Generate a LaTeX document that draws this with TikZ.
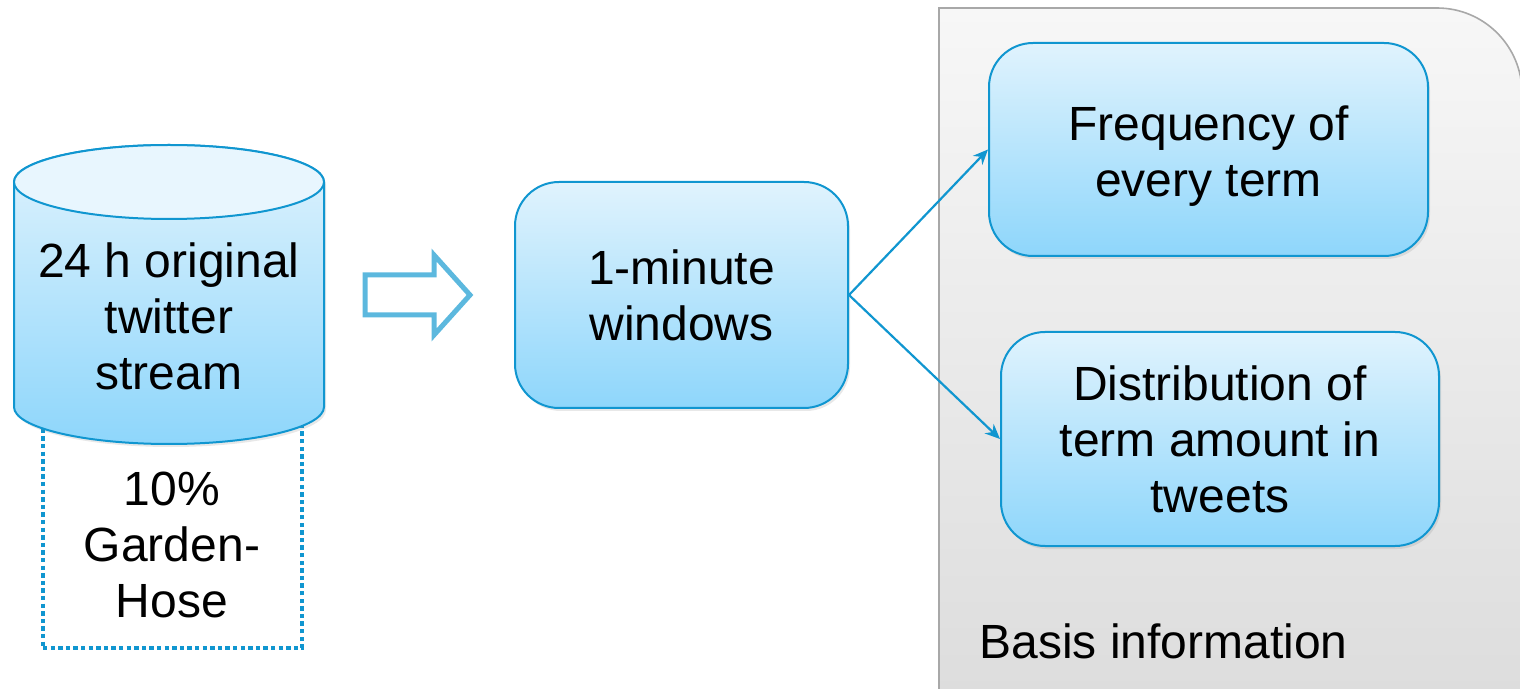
\documentclass[tikz,border=0pt]{standalone}
\usepackage{fontspec}
\setmainfont{Liberation Sans}
\usepackage{xcolor}
\usepackage{tikz}
\usetikzlibrary{arrows.meta, positioning, shadows}
\definecolor{hoseblue}{RGB}{16, 150, 208}
\definecolor{flowblue}{RGB}{92, 184, 222}
\definecolor{boxtop}{RGB}{224, 243, 253}
\definecolor{boxbottom}{RGB}{142, 214, 251}
\definecolor{lidfill}{RGB}{232, 246, 254}
\definecolor{paneltop}{RGB}{247, 247, 247}
\definecolor{panelbottom}{RGB}{220, 220, 220}
\definecolor{panelline}{RGB}{168, 168, 168}

\begin{document}
\begin{tikzpicture}[
    x=0.5pt, y=-0.5pt,
    every node/.style={font=\fontsize{24pt}{28pt}\selectfont},
    stepbox/.style={rectangle, draw=hoseblue, line width=1pt, rounded corners=22pt, top color=boxtop, bottom color=boxbottom, align=center,
        drop shadow={opacity=0.18, shadow xshift=1pt, shadow yshift=-1.5pt}},
    link/.style={-{Stealth[length=7.5pt, width=6.5pt]}, draw=hoseblue, line width=1.1pt},
    txt/.style={align=center, inner sep=0pt}
]
    \useasboundingbox (0,0) rectangle (1520,689);
    \clip (0,0) rectangle (1520,689);

    % Basis panel
    \path[draw=panelline, line width=0.8pt, top color=paneltop, bottom color=panelbottom]
        (939,720) -- (939,8) -- (1437,8) arc[start angle=90, end angle=0, radius=42.5pt] -- (1522,720) -- cycle;
    \node[anchor=west, inner sep=0pt] (basis) at (979,641) {Basis information};

    % Garden hose sample
    \node[draw=hoseblue, line width=2pt, dash pattern=on 2.2pt off 1.6pt, minimum width=129.5pt, minimum height=111.5pt, inner sep=0pt] (hose) at (172.5,536.5) {};
    \node[txt] (hosetext) at (172,545) {10\%\\Garden-\\Hose};

    % Stream store
    \path[draw=hoseblue, line width=1pt, top color=boxtop, bottom color=boxbottom, drop shadow={opacity=0.18, shadow xshift=1pt, shadow yshift=-1.5pt}]
        (14,182) -- (14,407) arc[start angle=180, end angle=360, x radius=77.5pt, y radius=18.5pt]
        -- (324,182) arc[start angle=0, end angle=180, x radius=77.5pt, y radius=18.5pt] -- cycle;
    \draw[hoseblue, line width=1pt, fill=lidfill] (169,182) ellipse [x radius=77.5pt, y radius=18.5pt];
    \node[txt] (stream) at (169,316) {24 h original\\twitter\\stream};

    % Hollow arrow
    \draw[flowblue, line width=2.5pt, line join=miter]
        (365,275) -- (434,275) -- (434,255) -- (470,295) -- (434,335) -- (434,315) -- (365,315) -- cycle;

    % Windows and results
    \node[stepbox, minimum width=166.5pt, minimum height=113pt] (windows) at (681.5,295) {1-minute\\windows};
    \node[stepbox, minimum width=219.5pt, minimum height=106.5pt, text height=51.5pt] (freq) at (1208.5,149.5) {Frequency of\\every term};
    \node[stepbox, minimum width=219pt, minimum height=107pt] (dist) at (1220,439) {Distribution of\\term amount in\\tweets};

    % Arrows
    \draw[link] (windows.east) -- (freq.west);
    \draw[link] (windows.east) -- (dist.west);
\end{tikzpicture}
\end{document}
